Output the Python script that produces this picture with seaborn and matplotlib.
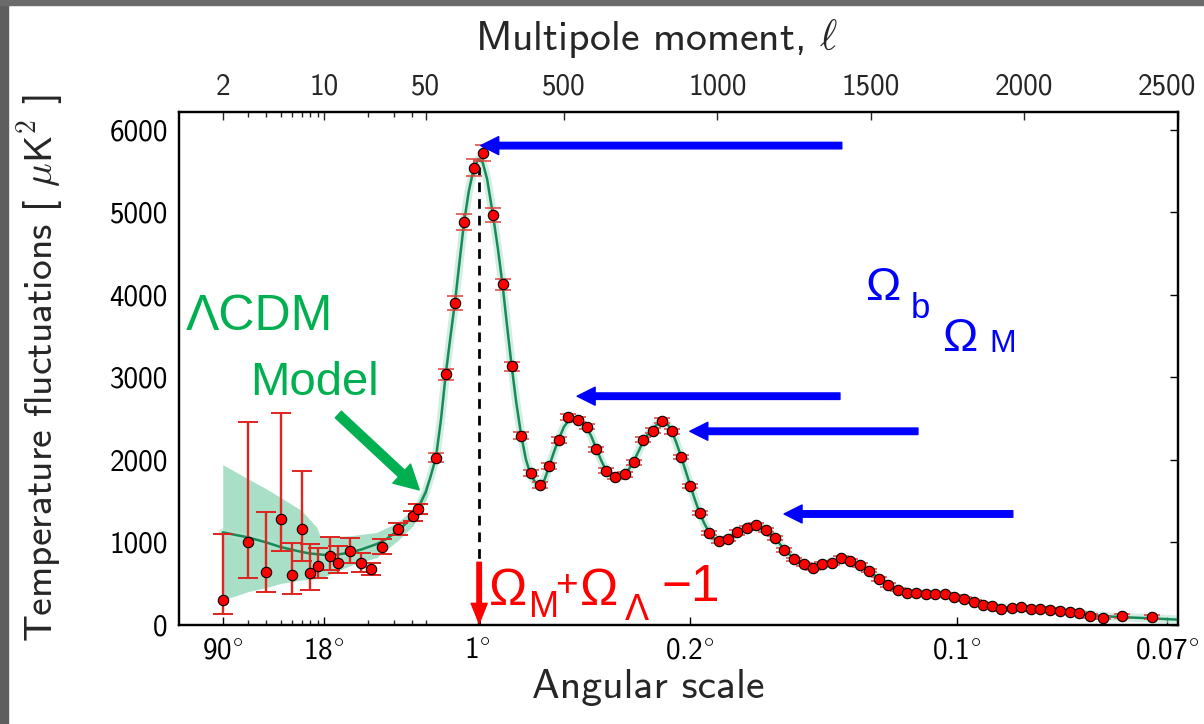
import numpy as np
import matplotlib
matplotlib.use('Agg')
import matplotlib.pyplot as plt
from matplotlib.patches import Rectangle
from matplotlib.transforms import ScaledTranslation
import seaborn as sns

# ---- data ----
# low multipoles, single points with asymmetric errors
ell_low = [2, 3, 4, 5, 6, 7, 8, 9, 11, 12.5, 15, 18, 21, 25, 32, 41, 44]
dl_low = [301, 1008, 644, 1284, 600, 1162, 636, 713, 830, 754, 896, 754, 677, 948, 1162, 1316, 1410]
err_low_minus = [170, 436, 242, 389, 219, 384, 206, 145, 165, 118, 146, 113, 77, 85, 72, 60, 60]
err_low_plus = [801, 1448, 720, 1290, 393, 700, 344, 219, 231, 206, 153, 113, 73, 93, 69, 60, 60]

# binned high multipoles
ell_high = [83, 115, 145, 175, 207, 237, 269, 300, 330, 361,
            392, 422, 452, 483, 514, 545, 576, 606, 637, 668,
            698, 728, 759, 789, 821, 851, 882, 912, 942, 974,
            1004, 1035, 1065, 1096, 1126, 1158, 1188, 1218, 1250, 1281,
            1311, 1341, 1373, 1403, 1433, 1464, 1495, 1526, 1556, 1588,
            1618, 1648, 1679, 1710, 1741, 1771, 1803, 1834, 1865, 1895,
            1925, 1958, 1989, 2021, 2052, 2083, 2115, 2147, 2178, 2213,
            2256, 2318, 2416]
dl_high = [2024, 3035, 3905, 4884, 5539, 5721, 4965, 4127, 3132, 2295,
           1842, 1700, 1931, 2236, 2517, 2489, 2404, 2129, 1870, 1797,
           1825, 1971, 2243, 2356, 2473, 2347, 2036, 1684, 1357, 1114,
           1021, 1041, 1121, 1178, 1211, 1150, 1049, 911, 794, 733,
           691, 745, 750, 814, 774, 726, 660, 556, 483, 426,
           393, 390, 381, 381, 374, 345, 320, 280, 245, 225,
           193, 206, 215, 193, 198, 186, 165, 157, 140, 110,
           90, 110, 95]
err_high = [55, 70, 85, 95, 105, 100, 85, 70, 55, 45,
            40, 38, 36, 36, 35, 35, 34, 33, 32, 32,
            31, 31, 30, 30, 30, 29, 29, 28, 27, 26,
            26, 25, 25, 25, 25, 24, 24, 23, 23, 22,
            22, 22, 22, 21, 21, 21, 20, 20, 20, 19,
            19, 19, 19, 19, 18, 18, 18, 18, 18, 18,
            18, 18, 18, 18, 18, 18, 18, 19, 19, 20,
            22, 24, 28]

# LCDM model curve
ell_model = [2, 3, 4, 5, 6, 7, 8, 10, 12, 15,
             18, 23, 27, 32, 36, 41, 44, 48, 50, 65,
             83, 100, 115, 130, 145, 160, 175, 190, 205, 220,
             235, 250, 269, 285, 300, 315, 330, 345, 361, 376,
             392, 410, 422, 437, 452, 467, 483, 500, 520, 535,
             550, 576, 590, 606, 622, 637, 655, 680, 698, 713,
             728, 745, 759, 775, 789, 810, 825, 840, 851, 866,
             882, 897, 912, 927, 942, 958, 974, 990, 1005, 1020,
             1035, 1065, 1096, 1120, 1140, 1158, 1188, 1218, 1250, 1281,
             1312, 1341, 1373, 1403, 1433, 1464, 1495, 1526, 1556, 1588,
             1618, 1648, 1679, 1710, 1741, 1771, 1803, 1834, 1865, 1895,
             1925, 1958, 1989, 2021, 2052, 2083, 2115, 2147, 2178, 2213,
             2256, 2318, 2416, 2500]
dl_model = [1122, 1061, 1000, 945, 912, 885, 866, 850, 852, 875,
            915, 981, 1045, 1142, 1220, 1324, 1400, 1546, 1610, 1790,
            2024, 2500, 3035, 3480, 3905, 4400, 4884, 5250, 5510, 5640,
            5610, 5400, 4965, 4560, 4127, 3620, 3132, 2690, 2295, 2010,
            1810, 1715, 1695, 1760, 1925, 2090, 2250, 2400, 2500, 2510,
            2480, 2380, 2280, 2130, 1990, 1875, 1800, 1790, 1830, 1895,
            1990, 2120, 2230, 2320, 2380, 2450, 2460, 2420, 2350, 2210,
            2036, 1860, 1684, 1515, 1357, 1225, 1115, 1045, 1022, 1025,
            1045, 1115, 1175, 1205, 1195, 1150, 1050, 915, 800, 735,
            705, 730, 765, 795, 780, 725, 655, 560, 485, 428,
            398, 388, 380, 376, 368, 347, 318, 285, 252, 232,
            210, 205, 205, 198, 194, 185, 170, 155, 140, 122,
            108, 95, 80, 65]

# cosmic variance band at low l
band_ell = [2, 3, 4, 5, 7, 8.9, 9.4, 15, 23, 32, 41, 48, 55]
band_upper = [1943, 1769, 1648, 1546, 1385, 1182, 1069, 1081, 1121, 1243, 1405, 1627, 1760]
band_lower = [301, 405, 455, 503, 545, 560, 565, 717, 818, 1021, 1203, 1425, 1560]

first_peak_ell = 222
first_peak_top = 5550

top_ticks = [2, 10, 50, 500, 1000, 1500, 2000, 2500]
bottom_ticks = [2, 10, 220, 910, 1780, 2465]
bottom_labels = [r'90$^{\circ}$', r'18$^{\circ}$', r'1$^{\circ}$', r'0.2$^{\circ}$',
                 r'0.1$^{\circ}$', r'0.07$^{\circ}$']
minor_ticks = [3, 4, 5, 6, 7, 8, 9, 20, 30, 40]

# ---- hybrid x scale: log below l=50, linear above ----
DEC = 473.0
def fwd(l):
    l = np.asarray(l, dtype=float)
    return np.where(l >= 50, l, 50 + DEC * np.log10(np.clip(l, 1e-6, None) / 50.0))

def inv(p):
    p = np.asarray(p, dtype=float)
    return np.where(p >= 50, p, 50.0 * 10 ** ((np.clip(p, -1e4, 50) - 50) / DEC))

sns.set_style('white', {'xtick.direction': 'in', 'ytick.direction': 'in',
                        'axes.edgecolor': 'black'})
plt.rcParams['font.family'] = ['cmss10', 'DejaVu Sans']
plt.rcParams['mathtext.fontset'] = 'cm'
plt.rcParams['axes.unicode_minus'] = False

W, H = 1204, 724
fig = plt.figure(figsize=(W / 100, H / 100), dpi=100)
fig.patch.set_facecolor('white')
ax = fig.add_axes([179 / W, 1 - 625 / H, 999 / W, 513 / H])
ax.set_xscale('function', functions=(fwd, inv))

# band + model
ax.fill_between(band_ell, band_lower, band_upper, color='#a9dfc7', lw=0, zorder=1)
sns.lineplot(x=ell_model, y=dl_model, sort=False, estimator=None, color='#b4e3cf',
             lw=6, alpha=0.6, ax=ax, zorder=2)
sns.lineplot(x=ell_model, y=dl_model, sort=False, estimator=None, color='#178a58',
             lw=1.8, ax=ax, zorder=3)

ax.vlines(first_peak_ell, 0, first_peak_top, colors='black', lw=2,
          linestyles=(0, (3.5, 2.5)), zorder=4)

# data points
ax.errorbar(ell_low, dl_low, yerr=[err_low_minus, err_low_plus], fmt='none',
            ecolor='#e0241f', elinewidth=1.7, capsize=7.5, capthick=1.4, zorder=5)
ax.errorbar(ell_high, dl_high, yerr=err_high, fmt='none',
            ecolor='#e0403a', elinewidth=1.3, capsize=6, capthick=1.1, zorder=5)
sns.scatterplot(x=ell_low + ell_high, y=dl_low + dl_high, color='#ff0000',
                edgecolor='black', linewidth=0.8, s=56, ax=ax, zorder=6)

ax.set_xlim(1, 2500)
ax.set_ylim(0, 6215)
ax.set_yticks(range(0, 6001, 1000))
ax.set_xticks(bottom_ticks)
ax.set_xticklabels(bottom_labels)
ax.set_xticks(minor_ticks + [50], minor=True)
ax.tick_params(axis='both', which='major', labelsize=21, length=6, width=1, pad=8,
               top=False, right=True, colors='black')
ax.tick_params(axis='x', which='major', pad=9)
ax.tick_params(axis='x', which='minor', length=3.5, width=1, top=False)
for s in ax.spines.values():
    s.set_linewidth(1.6)
    s.set_color('black')
ax.set_xlabel('Angular scale', fontsize=30, labelpad=3)
ax.xaxis.label.set_x(0.47)
ax.set_ylabel(r'Temperature fluctuations [ $\mu\mathsf{K}^{\mathsf{2}}$ ]', fontsize=28.5,
              labelpad=31)

ax2 = ax.twiny()
ax2.set_xscale('function', functions=(fwd, inv))
ax2.set_xlim(1, 2500)
ax2.set_xticks(top_ticks)
ax2.set_xticklabels([str(t) for t in top_ticks])
ax2.set_xticks(minor_ticks, minor=True)
ax2.tick_params(axis='x', which='major', labelsize=21, length=6, width=1, pad=8, direction='in')
ax2.tick_params(axis='x', which='minor', length=3.5, width=1, direction='in')
ax2.set_xlabel(r'Multipole moment, $\ell$', fontsize=30, labelpad=17)
ax2.xaxis.label.set_x(0.478)
for s in ax2.spines.values():
    s.set_linewidth(1.6)

# last top label sits a bit inside the frame edge in the original
last = ax2.get_xticklabels()[-1]
last.set_transform(last.get_transform() + ScaledTranslation(-0.11, 0, fig.dpi_scale_trans))

# ---- annotations ----
def arrow(tip, tail, color, hl, hw, tw):
    ax.annotate('', xy=tip, xytext=tail, xycoords='data',
                arrowprops=dict(arrowstyle=f'simple,head_length={hl},head_width={hw},tail_width={tw}',
                                color=color, mutation_scale=0.72, shrinkA=0, shrinkB=0),
                annotation_clip=False, zorder=8)

arrow((229, 5808), (1405, 5808), '#0000ff', 18, 18, 6.5)
arrow((543, 2772), (1399, 2772), '#0000ff', 18, 18, 6.5)
arrow((910, 2347), (1653, 2347), '#0000ff', 18, 18, 6.5)
arrow((1217, 1345), (1962, 1345), '#0000ff', 18, 18, 6.5)
arrow((45.1, 1636), (12.5, 2550), '#00b050', 24, 26, 9)
arrow((224, 20), (224, 760), '#ff0000', 20, 16, 4.5)

def ftext(x, y, s, size, color):
    fig.text(x / W, 1 - y / H, s, fontsize=size, color=color, ha='left', va='baseline',
             family=['Liberation Sans', 'DejaVu Sans'])

ftext(186, 330, 'ΛCDM', 36, '#00b050')
ftext(250, 395, 'Model', 34, '#00b050')

ftext(489, 605, 'Ω', 37, '#ff0000')
ftext(529, 617, 'M', 26, '#ff0000')
ftext(555, 596, '+', 28, '#ff0000')
ftext(580, 605, 'Ω', 37, '#ff0000')
ftext(625, 620, 'Λ', 26, '#ff0000')
ftext(661, 601, '−1', 37, '#ff0000')

ftext(866, 300, 'Ω', 34, '#0000ff')
ftext(911, 318, 'b', 25, '#0000ff')
ftext(943, 351, 'Ω', 34, '#0000ff')
ftext(989, 352, 'M', 23, '#0000ff')

# screenshot frame
fig.patches.append(Rectangle((0, 0), 8 / W, 1, transform=fig.transFigure,
                             color='#5e5e5e', zorder=0))
fig.patches.append(Rectangle((0, 1 - 5 / H), 1, 5 / H, transform=fig.transFigure,
                             color='#6a6a6a', zorder=0))

fig.savefig('out.png', dpi=100)
